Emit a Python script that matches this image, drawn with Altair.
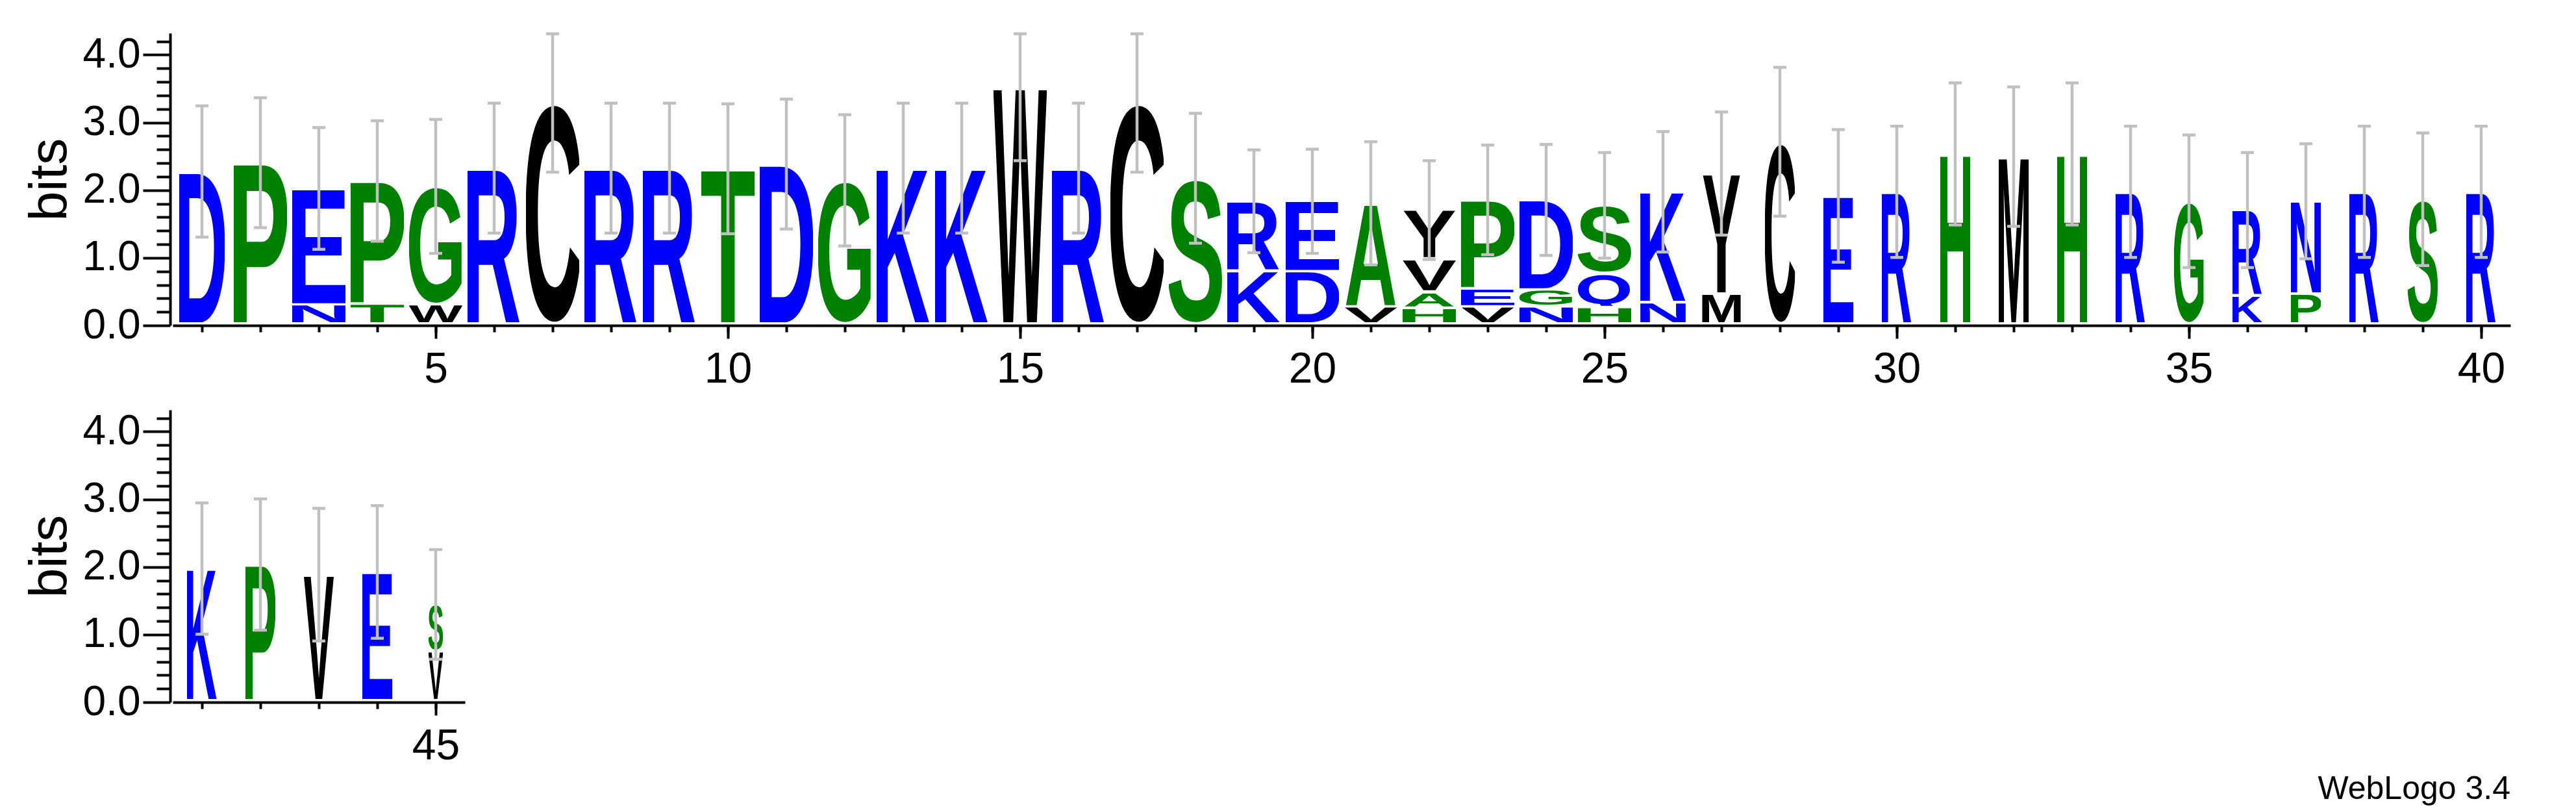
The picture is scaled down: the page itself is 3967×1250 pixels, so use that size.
import base64
import altair as alt
import pandas as pd

positions = list(range(1, 46))

# letters of each column, bottom -> top
stack_letters = [
    "D", "P", "NE", "TP", "WG", "R", "C", "R", "R", "T",
    "D", "G", "K", "K", "W", "R", "C", "S", "KR", "DE",
    "VA", "HAVY", "VEP", "NGD", "HQS", "NK", "MY", "C", "E", "R",
    "H", "M", "H", "R", "G", "KR", "PN", "R", "S", "R",
    "K", "P", "V", "E", "VS",
]

# height (bits) of each letter, bottom -> top
stack_heights = [
    [2.23], [2.36], [0.25, 1.73], [0.26, 1.83], [0.25, 1.76],
    [2.28], [3.26], [2.28], [2.28], [2.27],
    [2.34], [2.10], [2.28], [2.28], [3.49],
    [2.28], [3.26], [2.13], [0.75, 1.04], [0.74, 1.05],
    [0.22, 1.54], [0.20, 0.24, 0.49, 0.73], [0.22, 0.27, 1.32], [0.22, 0.25, 1.34], [0.21, 0.50, 1.02],
    [0.28, 1.65], [0.41, 1.79], [2.67], [1.87], [1.93],
    [2.49], [2.45], [2.49], [1.93], [1.79],
    [0.38, 1.28], [0.41, 1.38], [1.93], [1.82], [1.93],
    [1.93], [1.99], [1.84], [1.88], [0.70, 0.70],
]

# relative stack width of each column (fraction of sequences present)
column_weight = [
    0.86, 1.0, 1.0, 1.0, 1.0, 1.0, 1.0, 1.0, 1.0, 1.0,
    1.0, 1.0, 1.0, 1.0, 1.0, 1.0, 1.0, 1.0, 1.0, 1.0,
    1.0, 1.0, 1.0, 1.0, 1.0, 0.85, 0.72, 0.565, 0.565, 0.565,
    0.565, 0.565, 0.565, 0.565, 0.565, 0.565, 0.565, 0.565, 0.565, 0.565,
    0.565, 0.565, 0.565, 0.565, 0.28,
]

# half-length of the error bar of each column (bits)
error_half = [
    0.97, 0.96, 0.90, 0.89, 0.99, 0.96, 1.04, 0.96, 0.96, 0.96,
    0.96, 0.97, 0.96, 0.96, 1.10, 0.96, 1.04, 0.96, 0.76, 0.77,
    0.91, 0.73, 0.81, 0.82, 0.78, 0.89, 0.91, 1.10, 0.98, 0.97,
    1.05, 1.03, 1.05, 0.97, 0.98, 0.85, 0.85, 0.97, 0.98, 0.97,
    0.97, 0.97, 0.98, 0.98, 0.81,
]

top_positions = list(range(1, 41))
bottom_positions = list(range(41, 46))
top_x_labels = [5, 10, 15, 20, 25, 30, 35, 40]
bottom_x_labels = [45]
y_labels = [0, 1, 2, 3, 4]
y_minor = [round(k * 0.2, 1) for k in range(1, 22) if k % 5 != 0]
footer = "WebLogo 3.4"

# ---------------- style ----------------
YMAX = 4.32          # log2(20)
BASE = 0.045         # letters sit slightly above the axis line
GAP = 0.035          # gap between stacked letters
HALF = 0.456         # half width of a full-weight glyph (in columns)
CLIP = 4.31
GREY = "#c0c0c0"
FONT = "Liberation Sans"

BLUE, GREEN, BLACK = "#0000ff", "#008000", "#000000"
COLOR = {}
for c in "DENRKQ":
    COLOR[c] = BLUE
for c in "PTGSAH":
    COLOR[c] = GREEN
for c in "WCVYMILF":
    COLOR[c] = BLACK

FLAT_TOP, ROUND_TOP, ROUND_BOT = 700, 712, 12
# advance, left bearing, right bearing (per 1000 em, bold sans)
GLYPH = {
    "A": (722, 0, 0), "C": (722, 44, 42), "D": (722, 76, 44), "E": (667, 76, 47),
    "G": (778, 44, 51), "H": (722, 73, 73), "K": (722, 76, 0), "M": (833, 73, 73),
    "N": (722, 73, 73), "P": (667, 76, 37), "Q": (778, 41, 27), "R": (722, 76, 4),
    "S": (667, 33, 38), "T": (611, 22, 22), "V": (667, 4, 4), "W": (944, 4, 4),
    "Y": (667, 4, 4),
}


def glyph_url(letter):
    adv, lsb, rsb = GLYPH[letter]
    if letter in "CGOQS":
        top, bot = ROUND_TOP, (60 if letter == "Q" else ROUND_BOT)
    else:
        top, bot = FLAT_TOP, 0
    w = adv - lsb - rsb
    h = top + bot
    svg = (
        f'<svg xmlns="http://www.w3.org/2000/svg" width="{w}" height="{h}" '
        f'viewBox="{lsb} {-top} {w} {h}" preserveAspectRatio="none">'
        f'<text x="0" y="0" font-family="Liberation Sans, Arimo, Arial, sans-serif" '
        f'font-weight="bold" font-size="1000" fill="{COLOR[letter]}">{letter}</text></svg>'
    )
    return "data:image/svg+xml;base64," + base64.b64encode(svg.encode()).decode()


# ---------------- tables ----------------
letter_rows, err_rows = [], []
for pos, letters, heights, wgt, e in zip(positions, stack_letters, stack_heights,
                                          column_weight, error_half):
    cum = 0.0
    for L, h in zip(letters, heights):
        bottom, top = cum, cum + h
        letter_rows.append({
            "pos": pos, "letter": L,
            "x0": pos - HALF * wgt, "x1": pos + HALF * wgt,
            "y0": BASE + bottom + (GAP if bottom > 0 else 0.0),
            "y1": BASE + top,
            "url": glyph_url(L),
        })
        cum = top
    center = BASE + cum
    err_rows.append({"pos": pos, "lo": center - e, "hi": min(center + e, CLIP)})

letters_df = pd.DataFrame(letter_rows)
err_df = pd.DataFrame(err_rows)


def panel(pos_list, major_x):
    lo_x, hi_x = min(pos_list) - 0.5, max(pos_list) + 0.5
    ldf = letters_df[letters_df["pos"].isin(pos_list)]
    edf = err_df[err_df["pos"].isin(pos_list)]
    xs = alt.Scale(domain=[lo_x, hi_x], nice=False, zero=False)
    ys = alt.Scale(domain=[0, YMAX], nice=False, zero=True)

    x_major = alt.Axis(values=major_x, format="d", orient="bottom", title=None, grid=False,
                       tickSize=20, tickWidth=4, tickColor="black", domainWidth=4,
                       domainColor="black", labelFontSize=66, labelFont=FONT,
                       labelColor="black", labelPadding=15, labelFlush=False,
                       labelOverlap=False)
    x_minor = alt.Axis(values=pos_list, orient="bottom", title=None, grid=False, labels=False,
                       domain=False, tickSize=10, tickWidth=4, tickColor="black")
    y_major = alt.Axis(values=y_labels, format=".1f", orient="left", title="bits", grid=False,
                       tickSize=42, tickWidth=4, tickColor="black", domainWidth=4,
                       domainColor="black", labelFontSize=64, labelFont=FONT,
                       labelColor="black", labelPadding=4, labelFlush=False,
                       labelOverlap=False, offset=4, titleFont=FONT, titleFontSize=82,
                       titleFontWeight="normal", titleColor="black", titlePadding=9)
    y_minor_ax = alt.Axis(values=y_minor, orient="left", title=None, grid=False, labels=False,
                          domain=False, tickSize=21, tickWidth=4, tickColor="black", offset=4)

    glyphs = alt.Chart(ldf).mark_image(aspect=False).encode(
        x=alt.X("x0:Q", scale=xs, axis=x_major),
        x2="x1:Q",
        y=alt.Y("y0:Q", scale=ys, axis=y_major),
        y2="y1:Q",
        url="url:N",
    )
    bars = alt.Chart(edf).mark_rule(color=GREY, strokeWidth=4.5).encode(
        x=alt.X("pos:Q", scale=xs, axis=x_minor),
        y=alt.Y("lo:Q", scale=ys, axis=y_minor_ax),
        y2="hi:Q",
    )
    cap_lo = alt.Chart(edf).mark_tick(color=GREY, orient="horizontal", size=20,
                                      thickness=4.5, opacity=1).encode(
        x=alt.X("pos:Q", scale=xs, axis=None),
        y=alt.Y("lo:Q", scale=ys, axis=None),
    )
    cap_hi = alt.Chart(edf).mark_tick(color=GREY, orient="horizontal", size=20,
                                      thickness=4.5, opacity=1).encode(
        x=alt.X("pos:Q", scale=xs, axis=None),
        y=alt.Y("hi:Q", scale=ys, axis=None),
    )
    return alt.layer(glyphs, bars, cap_lo, cap_hi).resolve_axis(
        x="independent", y="independent"
    ).properties(width=90 * len(pos_list), height=450)


top_panel = panel(top_positions, top_x_labels)
bottom_panel = panel(bottom_positions, bottom_x_labels)

chart = alt.vconcat(top_panel, bottom_panel, spacing=30).properties(
    padding={"left": 27, "top": 41, "right": 20, "bottom": 5},
    background="white",
    title=alt.TitleParams(footer, orient="bottom", anchor="end", fontSize=50,
                          fontWeight="normal", font=FONT, color="black", offset=9),
).configure_view(stroke=None)

chart.save("out.html", embed_options={"renderer": "svg", "actions": False})
